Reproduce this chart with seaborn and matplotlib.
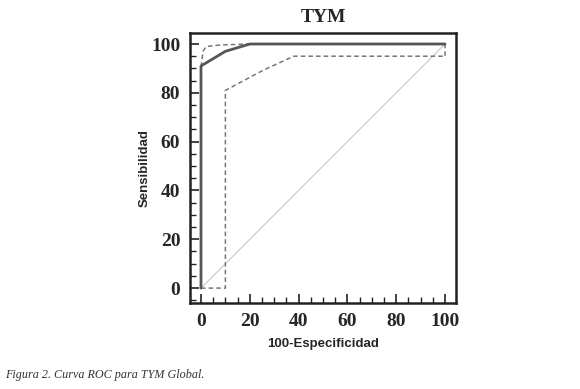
import pandas as pd
import seaborn as sns
import matplotlib.pyplot as plt
from matplotlib.ticker import MultipleLocator

# ROC curve for TYM and its confidence bounds
roc_x = [0, 0, 10, 20, 100]
roc_y = [0, 91, 97, 100, 100]

upper_x = [0, 0, 0.8, 2.2, 8, 20, 100, 100]
upper_y = [0, 90, 97, 99, 99.6, 100, 100, 95]

lower_x = [0, 10, 10, 25, 38, 100]
lower_y = [0, 0, 81, 89, 95, 95]

diag_x = [0, 100]
diag_y = [0, 100]

sns.set_style("white")
fig = plt.figure(figsize=(5.8, 3.89), dpi=100)
ax = fig.add_axes([0.3276, 0.2211, 0.4586, 0.694])

dash = (0, (3, 2))
ax.plot(diag_x, diag_y, color="#c8c8c8", lw=0.8)
sns.lineplot(x=upper_x, y=upper_y, sort=False, estimator=None, ax=ax,
             color="#777777", lw=1.1, linestyle=dash)
sns.lineplot(x=lower_x, y=lower_y, sort=False, estimator=None, ax=ax,
             color="#777777", lw=1.1, linestyle=dash)
sns.lineplot(x=roc_x, y=roc_y, sort=False, estimator=None, ax=ax,
             color="#555555", lw=2)

ax.set_xlim(-4.5, 104.5)
ax.set_ylim(-6.1, 104.5)
ax.xaxis.set_major_locator(MultipleLocator(20))
ax.xaxis.set_minor_locator(MultipleLocator(5))
ax.yaxis.set_major_locator(MultipleLocator(20))
ax.yaxis.set_minor_locator(MultipleLocator(5))
ax.tick_params(which="major", direction="in", length=6.5, width=1.2, color="#222222",
               bottom=True, left=True, labelsize=14, pad=7)
ax.tick_params(which="minor", direction="in", length=4, width=1, color="#222222",
               bottom=True, left=True)
for lab in ax.get_xticklabels() + ax.get_yticklabels():
    lab.set_family("Liberation Serif")
    lab.set_fontweight("bold")

for s in ax.spines.values():
    s.set_linewidth(1.8)
    s.set_color("#222222")

ax.set_title("TYM", family="Liberation Serif", fontweight="bold", fontsize=14, pad=8)
ax.set_xlabel("100-Especificidad", family="Liberation Sans", fontweight="bold", fontsize=9.5, labelpad=6)
ax.set_ylabel("Sensibilidad", family="Liberation Sans", fontweight="bold", fontsize=9.5, labelpad=0)

fig.text(0.009, 0.028, "Figura 2. Curva ROC para TYM Global.", family="Liberation Serif",
         style="italic", fontsize=8.7, color="#333333")

fig.savefig("out.png", dpi=100)
